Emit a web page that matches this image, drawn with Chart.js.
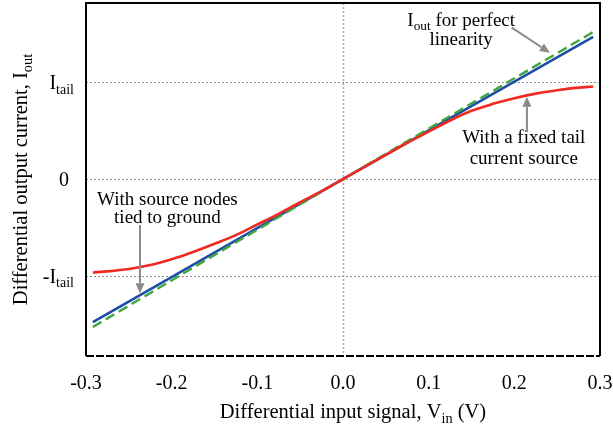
<!DOCTYPE html>
<html>
<head>
<meta charset="utf-8">
<script src="https://cdn.jsdelivr.net/npm/chart.js@4/dist/chart.umd.min.js"></script>
<style>
  html, body { margin: 0; padding: 0; background: #fff; }
  #wrap { width: 613px; height: 431px; }
</style>
</head>
<body>
<div id="wrap"><canvas id="chart" width="613" height="431"></canvas></div>
<script>
// differential pair transfer curves, output current in units of I_tail
const vinRed = [-0.292, -0.275, -0.25, -0.225, -0.2, -0.175, -0.15, -0.125, -0.1, -0.075, -0.05, -0.025, 0,
                0.025, 0.05, 0.075, 0.1, 0.125, 0.15, 0.175, 0.2, 0.225, 0.25, 0.275, 0.292];
const ioutFixedTail = [-0.967, -0.955, -0.93, -0.89, -0.83, -0.755, -0.67, -0.58, -0.47, -0.36, -0.24, -0.125, 0,
                       0.125, 0.25, 0.375, 0.49, 0.605, 0.705, 0.777, 0.836, 0.883, 0.918, 0.945, 0.956];
const vinLinear = [-0.292, 0, 0.292];
const ioutSourceGnd = [-1.48, 0, 1.47];
const ioutIdeal = [-1.53, 0, 1.52];

const xTicks = [-0.3, -0.2, -0.1, 0, 0.1, 0.2, 0.3];
const xTickLabels = ['-0.3', '-0.2', '-0.1', '0.0', '0.1', '0.2', '0.3'];
const yTicks = [1, 0, -1];
const yTickLabels = [['I', 'tail'], ['0', ''], ['-I', 'tail']];

const SERIF = "'Liberation Serif', 'Times New Roman', serif";

const pts = (xs, ys) => xs.map((x, i) => ({ x: x, y: ys[i] }));

// text with an optional subscript run: parts = [[text, isSub], ...]
function richWidth(ctx, parts, size) {
  let w = 0;
  parts.forEach(([t, sub]) => {
    ctx.font = (sub ? size * 0.7 : size) + 'px ' + SERIF;
    w += ctx.measureText(t).width;
  });
  return w;
}
function drawRich(ctx, parts, x, y, size, align) {
  const w = richWidth(ctx, parts, size);
  let cx = align === 'center' ? x - w / 2 : align === 'right' ? x - w : x;
  ctx.textAlign = 'left';
  ctx.textBaseline = 'alphabetic';
  parts.forEach(([t, sub]) => {
    ctx.font = (sub ? size * 0.7 : size) + 'px ' + SERIF;
    ctx.fillText(t, cx, sub ? y + size * 0.22 : y);
    cx += ctx.measureText(t).width;
  });
}
function arrow(ctx, x1, y1, x2, y2) {
  const a = Math.atan2(y2 - y1, x2 - x1);
  const len = 10, half = 4.5;
  ctx.save();
  ctx.strokeStyle = '#8a8a8a';
  ctx.fillStyle = '#8a8a8a';
  ctx.lineWidth = 2;
  ctx.beginPath();
  ctx.moveTo(x1, y1);
  ctx.lineTo(x2 - len * Math.cos(a), y2 - len * Math.sin(a));
  ctx.stroke();
  ctx.beginPath();
  ctx.moveTo(x2, y2);
  ctx.lineTo(x2 - len * Math.cos(a) + half * Math.sin(a), y2 - len * Math.sin(a) - half * Math.cos(a));
  ctx.lineTo(x2 - len * Math.cos(a) - half * Math.sin(a), y2 - len * Math.sin(a) + half * Math.cos(a));
  ctx.closePath();
  ctx.fill();
  ctx.restore();
}

// annotation positions in data units (V, I/I_tail)
const notes = [
  { lines: [[['I', false], ['out', true], [' for perfect', false]], [['linearity', false]]], x: 0.138, y: [1.58, 1.39],
    arrow: [0.197, 1.565, 0.2415, 1.306] },
  { lines: [[['With a fixed tail', false]], [['current source', false]]], x: 0.211, y: [0.37, 0.155],
    arrow: [0.2147, 0.487, 0.2147, 0.85] },
  { lines: [[['With source nodes', false]], [['tied to ground', false]]], x: -0.205, y: [-0.27, -0.455],
    arrow: [-0.237, -0.477, -0.237, -1.18] }
];

const gridPlugin = {
  id: 'grid',
  beforeDatasetsDraw(chart) {
    const { ctx, chartArea: a, scales: { x, y } } = chart;
    ctx.save();
    ctx.strokeStyle = '#8f8f8f';
    ctx.lineWidth = 1;
    ctx.setLineDash([2, 2]);
    yTicks.forEach(v => {
      const py = Math.round(y.getPixelForValue(v)) + 0.5;
      ctx.beginPath(); ctx.moveTo(a.left, py); ctx.lineTo(a.right, py); ctx.stroke();
    });
    const px = Math.round(x.getPixelForValue(0)) + 0.5;
    ctx.strokeStyle = '#a8a8a8';
    ctx.lineWidth = 1.5;
    ctx.beginPath(); ctx.moveTo(px, a.top); ctx.lineTo(px, a.bottom); ctx.stroke();
    ctx.restore();
  },
  afterDatasetsDraw(chart) {
    const { ctx, chartArea: a, scales: { x, y } } = chart;
    ctx.save();
    // frame: solid on three sides, dashed along the bottom
    ctx.strokeStyle = '#000';
    ctx.lineWidth = 2;
    ctx.beginPath();
    ctx.moveTo(a.left, a.bottom); ctx.lineTo(a.left, a.top);
    ctx.lineTo(a.right, a.top); ctx.lineTo(a.right, a.bottom);
    ctx.stroke();
    ctx.setLineDash([8, 2]);
    ctx.beginPath(); ctx.moveTo(a.left, a.bottom); ctx.lineTo(a.right, a.bottom); ctx.stroke();
    ctx.setLineDash([]);

    ctx.fillStyle = '#000';
    // x tick labels
    xTicks.forEach((v, i) => {
      drawRich(ctx, [[xTickLabels[i], false]], x.getPixelForValue(v), a.bottom + 33, 20, 'center');
    });
    // y tick labels
    yTicks.forEach((v, i) => {
      const [base, sub] = yTickLabels[i];
      const py = y.getPixelForValue(v) + 7;
      if (sub) drawRich(ctx, [[base, false], [sub, true]], a.left - 12, py, 20, 'right');
      else drawRich(ctx, [[base, false]], a.left - 22, py, 20, 'center');
    });
    // axis titles
    drawRich(ctx, [['Differential input signal, V', false], ['in', true], [' (V)', false]],
      (a.left + a.right) / 2 + 10, a.bottom + 62, 20.5, 'center');
    ctx.save();
    ctx.translate(27, (a.top + a.bottom) / 2);
    ctx.rotate(-Math.PI / 2);
    drawRich(ctx, [['Differential output current, I', false], ['out', true]], 0, 0, 20.5, 'center');
    ctx.restore();

    // callouts
    notes.forEach(n => {
      n.lines.forEach((parts, i) => {
        drawRich(ctx, parts, x.getPixelForValue(n.x), y.getPixelForValue(n.y[i]), 19, 'center');
      });
      const [x1, y1, x2, y2] = n.arrow;
      arrow(ctx, x.getPixelForValue(x1), y.getPixelForValue(y1), x.getPixelForValue(x2), y.getPixelForValue(y2));
    });
    ctx.restore();
  }
};

new Chart(document.getElementById('chart'), {
  type: 'line',
  data: {
    datasets: [
      { label: 'With a fixed tail current source', data: pts(vinRed, ioutFixedTail),
        borderColor: '#ee2a22', borderWidth: 2.6, cubicInterpolationMode: 'monotone' },
      { label: 'Iout for perfect linearity', data: pts(vinLinear, ioutIdeal),
        borderColor: '#41a541', borderWidth: 2.4, borderDash: [10, 5] },
      { label: 'With source nodes tied to ground', data: pts(vinLinear, ioutSourceGnd),
        borderColor: '#1d4ea6', borderWidth: 2.6 }
    ]
  },
  options: {
    responsive: false,
    devicePixelRatio: 1,
    animation: false,
    layout: { padding: { top: 3, right: 13, left: 0, bottom: 0 } },
    elements: { point: { radius: 0 } },
    plugins: { legend: { display: false }, tooltip: { enabled: false } },
    scales: {
      x: {
        type: 'linear', min: -0.3, max: 0.3,
        ticks: { display: false, stepSize: 0.1 },
        grid: { display: false }, border: { display: false },
        afterFit(s) { s.height = 75; }
      },
      y: {
        type: 'linear', min: -1.83, max: 1.82,
        ticks: { display: false },
        grid: { display: false }, border: { display: false },
        afterFit(s) { s.width = 86; }
      }
    }
  },
  plugins: [gridPlugin]
});
</script>
</body>
</html>
